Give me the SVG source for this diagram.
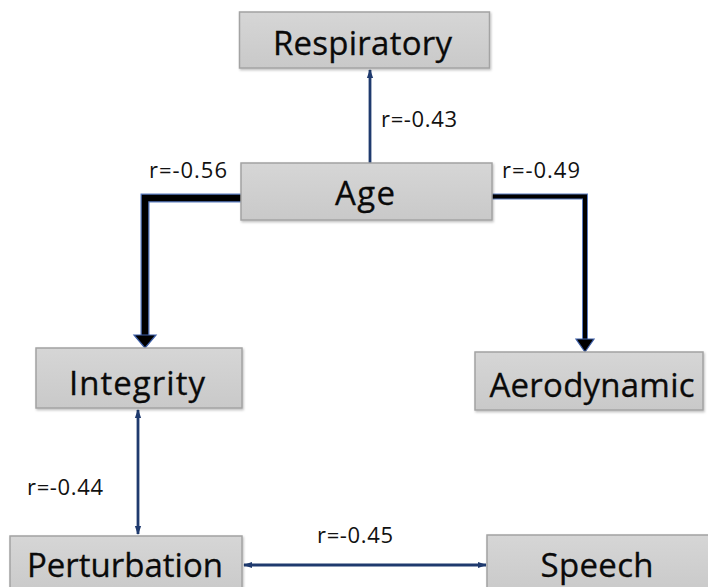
<svg xmlns="http://www.w3.org/2000/svg" width="708" height="587" viewBox="0 0 708 587">
  <defs>
    <linearGradient id="boxFill" x1="0" y1="0" x2="0" y2="1">
      <stop offset="0" stop-color="#d6d6d6"/>
      <stop offset="1" stop-color="#c9c9c9"/>
    </linearGradient>
    <filter id="shadow" x="-5%" y="-10%" width="110%" height="130%">
      <feDropShadow dx="1" dy="1.5" stdDeviation="1" flood-color="#000" flood-opacity="0.25"/>
    </filter>
    <marker id="thinHead" markerUnits="userSpaceOnUse" markerWidth="9" markerHeight="9" viewBox="0 0 10 10" refX="9" refY="5" orient="auto-start-reverse">
      <path d="M0,1.5 L10,5 L0,8.5 Z" fill="#1f3a6e"/>
    </marker>
  </defs>
  <style>
    .box { fill: url(#boxFill); stroke: #a3a3a3; stroke-width: 1.5; filter: url(#shadow); }
    .node-label { font-family: "Open Sans", "Liberation Sans", Arial, sans-serif; font-size: 33px; fill: #0a0a0a; stroke: #0a0a0a; stroke-width: 0.3; text-anchor: middle; }
    .r-label { font-family: "Open Sans", "Liberation Sans", Arial, sans-serif; font-size: 22px; fill: #111; }
    .thin { fill: none; stroke: #1f3a6e; stroke-width: 2.8; }
    .thick-edge { fill: none; stroke: #5b7cc0; stroke-linejoin: miter; }
    .thick-core { fill: none; stroke: #000; stroke-linejoin: miter; }
    .head { fill: #000; stroke: #3d5fa8; stroke-width: 1.2; stroke-linejoin: miter; }
  </style>

  <g id="connectors">
    <!-- Age to Respiratory -->
    <line class="thin" x1="370" y1="163" x2="370" y2="70" marker-end="url(#thinHead)"/>
    <!-- Age to Integrity (strongest) -->
    <path class="thick-edge" stroke-width="9" d="M241,198 H145 V337"/>
    <path class="thick-core" stroke-width="6.5" d="M241,198 H145 V337"/>
    <polygon class="head" points="134,335 156,335 145,348"/>
    <!-- Age to Aerodynamic -->
    <path class="thick-edge" stroke-width="6" d="M492,196.5 H585 V341"/>
    <path class="thick-core" stroke-width="4" d="M492,196.5 H585 V341"/>
    <polygon class="head" points="576,339 594,339 585,352"/>
    <!-- Integrity to Perturbation -->
    <line class="thin" x1="138" y1="410" x2="138" y2="534" marker-start="url(#thinHead)" marker-end="url(#thinHead)"/>
    <!-- Perturbation to Speech -->
    <line class="thin" x1="244" y1="565" x2="486" y2="565" marker-start="url(#thinHead)" marker-end="url(#thinHead)"/>

    <text class="r-label" x="381" y="127" textLength="76">r=-0.43</text>
    <text class="r-label" x="149" y="178" textLength="78">r=-0.56</text>
    <text class="r-label" x="502" y="178" textLength="78">r=-0.49</text>
    <text class="r-label" x="27" y="495" textLength="76">r=-0.44</text>
    <text class="r-label" x="317" y="543" textLength="76">r=-0.45</text>
  </g>

  <g id="respiratory">
    <rect class="box" x="239.5" y="12" width="250" height="56"/>
    <text class="node-label" x="362.5" y="55" textLength="179">Respiratory</text>
  </g>

  <g id="age">
    <rect class="box" x="241" y="163" width="251" height="57"/>
    <text class="node-label" x="365" y="205" textLength="60">Age</text>
  </g>

  <g id="integrity">
    <rect class="box" x="36" y="348" width="206" height="60"/>
    <text class="node-label" x="137" y="395" textLength="136">Integrity</text>
  </g>

  <g id="aerodynamic">
    <rect class="box" x="475" y="352" width="228" height="58"/>
    <text class="node-label" x="592" y="397" textLength="205">Aerodynamic</text>
  </g>

  <g id="perturbation">
    <rect class="box" x="10" y="536" width="232" height="60"/>
    <text class="node-label" x="125" y="577" textLength="196">Perturbation</text>
  </g>

  <g id="speech">
    <rect class="box" x="487" y="535" width="230" height="60"/>
    <text class="node-label" x="597" y="577" textLength="113">Speech</text>
  </g>
</svg>
